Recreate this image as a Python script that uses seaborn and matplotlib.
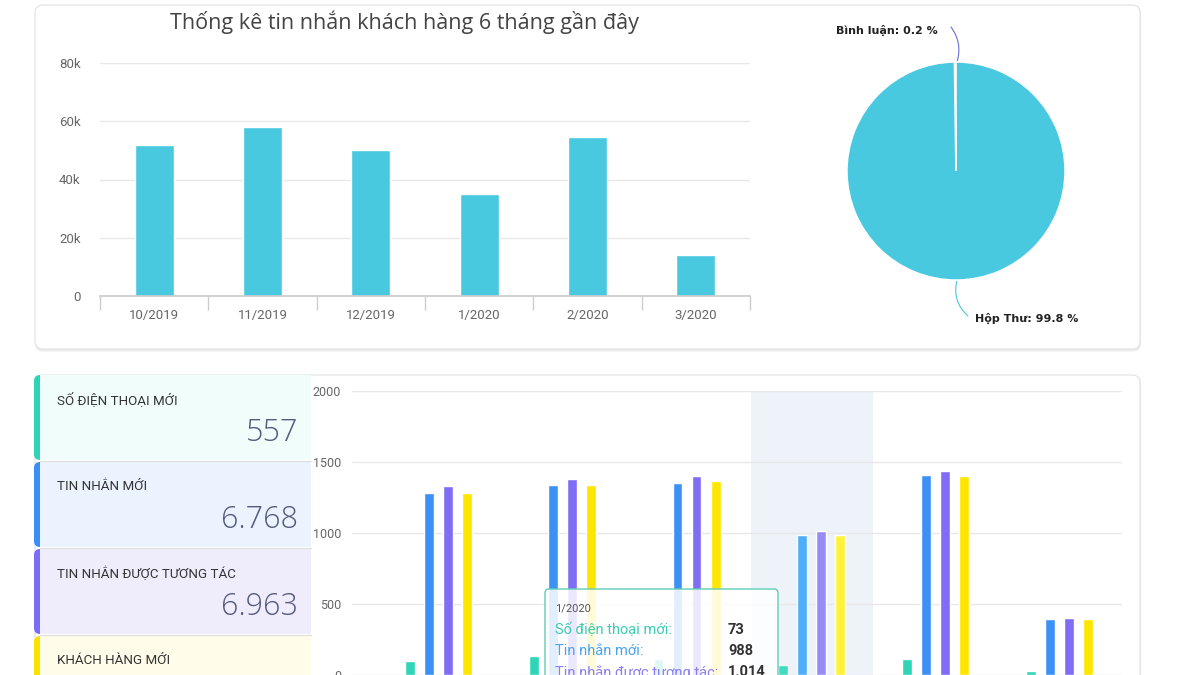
import matplotlib
matplotlib.use('Agg')
import matplotlib.pyplot as plt
from matplotlib.patches import FancyBboxPatch
import seaborn as sns
import pandas as pd
import numpy as np

# ---------------- data ----------------
months = ['10/2019', '11/2019', '12/2019', '1/2020', '2/2020', '3/2020']
hop_thu = [51700, 58000, 50200, 35000, 54600, 14100]
binh_luan = [600, 0, 0, 0, 0, 0]
top_title = 'Thống kê tin nhắn khách hàng 6 tháng gần đây'
top_yticks = [0, 20000, 40000, 60000, 80000]
top_ytick_labels = ['0', '20k', '40k', '60k', '80k']
pie_names = ['Bình luận', 'Hộp Thư']

series_names = ['Số điện thoại mới', 'Tin nhắn mới', 'Tin nhắn được tương tác', 'Khách hàng mới']
panel_titles = ['SỐ ĐIỆN THOẠI MỚI', 'TIN NHẮN MỚI', 'TIN NHẮN ĐƯỢC TƯƠNG TÁC', 'KHÁCH HÀNG MỚI']
so_dien_thoai_moi = [99, 134, 110, 73, 116, 25]
tin_nhan_moi = [1285, 1340, 1355, 988, 1405, 395]
tin_nhan_tuong_tac = [1333, 1380, 1398, 1014, 1438, 400]
khach_hang_moi = [1283, 1338, 1368, 985, 1404, 393]
bottom_yticks = [0, 500, 1000, 1500, 2000]
tooltip_month = '1/2020'

# ---------------- style ----------------
sns.set_theme(style='white')
plt.rcParams['font.family'] = ['Roboto', 'DejaVu Sans']

W, H = 1200, 675
fig = plt.figure(figsize=(12, 6.75), dpi=100)
fig.patch.set_facecolor('white')


def fx(px):
    return px / W


def fy(py):
    return 1 - py / H


def rbox(ax, x0, y0, x1, y1, r, fc, ec='none', lw=0.0, z=1):
    p = FancyBboxPatch((x0, y0), x1 - x0, y1 - y0,
                       boxstyle=f'round,pad=0,rounding_size={r}',
                       fc=fc, ec=ec, lw=lw, zorder=z)
    ax.add_patch(p)
    return p


def fmt_vn(v):
    return f'{int(v):,}'.replace(',', '.')


bg = fig.add_axes([0, 0, 1, 1], zorder=-10)
bg.set_xlim(0, W)
bg.set_ylim(H, 0)
bg.axis('off')

# cards
rbox(bg, 35, 5, 1141, 351.5, 8, '#ececec', z=0)
rbox(bg, 35, 5, 1140, 349, 8, 'white', ec='#e2e2e2', lw=0.8, z=1)
rbox(bg, 35, 375, 1141, 702, 8, '#ececec', z=0)
rbox(bg, 35, 375, 1140, 700, 8, 'white', ec='#e2e2e2', lw=0.8, z=1)

# ---------------- top bar chart ----------------
cyan = '#48c9df'
violet = '#6a6fd3'
ax1 = fig.add_axes([fx(100), fy(296), fx(750) - fx(100), (296 - 63) / H])
df_top = pd.DataFrame({'month': months, 'hop_thu': hop_thu,
                       'total': np.array(hop_thu) + np.array(binh_luan)})
sns.barplot(data=df_top, x='month', y='total', color=violet, width=0.36,
            saturation=1, ax=ax1)
sns.barplot(data=df_top, x='month', y='hop_thu', color=cyan, width=0.36,
            saturation=1, ax=ax1)
ax1.set_xlim(-0.5, 5.5)
ax1.set_ylim(0, 80000)
ax1.set_yticks(top_yticks)
ax1.set_yticklabels(top_ytick_labels)
ax1.set_xlabel('')
ax1.set_ylabel('')
ax1.set_facecolor('none')
ax1.grid(axis='y', color='#e8e8e8', lw=1)
ax1.set_axisbelow(True)
for s in ['top', 'right', 'left']:
    ax1.spines[s].set_visible(False)
ax1.spines['bottom'].set_color('#cccccc')
ax1.set_xticks(np.arange(-0.5, 6, 1), minor=True)
ax1.tick_params(axis='x', which='major', length=0, pad=9, labelsize=9.5, labelcolor='#666666')
ax1.tick_params(axis='x', which='minor', length=10, width=1, color='#cccccc', direction='out', bottom=True)
ax1.tick_params(axis='y', length=0, pad=14, labelsize=9.5, labelcolor='#666666')

fig.text(fx(404), fy(22), top_title, ha='center', va='center', fontsize=15.5,
         color='#444444', family=['Open Sans', 'DejaVu Sans'])

# ---------------- pie ----------------
pie_vals = [sum(binh_luan), sum(hop_thu)]
axp = fig.add_axes([fx(956 - 120), fy(171 + 120), 240 / W, 240 / H])
axp.pie(pie_vals, colors=[violet, cyan], startangle=90, counterclock=True,
        wedgeprops=dict(edgecolor='white', linewidth=1.2))
axp.set_xlim(-1.1, 1.1)
axp.set_ylim(-1.1, 1.1)
tot = sum(pie_vals)
pie_labels = [f'{n}: {v / tot * 100:.1f} %' for n, v in zip(pie_names, pie_vals)]
bg.text(938, 30, pie_labels[0], ha='right', va='center', fontsize=8, fontweight='bold',
        color='#222222', family='DejaVu Sans')
bg.text(975, 318, pie_labels[1], ha='left', va='center', fontsize=8, fontweight='bold',
        color='#222222', family='DejaVu Sans')
bg.annotate('', xy=(957, 62), xytext=(951, 27),
            arrowprops=dict(arrowstyle='-', color='#6a6fd3', lw=0.8, shrinkA=0, shrinkB=0,
                            connectionstyle='arc3,rad=-0.25'), zorder=3)
bg.annotate('', xy=(968, 316), xytext=(957, 280),
            arrowprops=dict(arrowstyle='-', color=cyan, lw=0.8, shrinkA=0, shrinkB=0,
                            connectionstyle='arc3,rad=0.3'), zorder=3)

# ---------------- left panels ----------------
strip_colors = ['#2fd3b6', '#3a8ef6', '#7b6cf5', '#ffe100']
panel_bgs = ['#f0fdfb', '#eaf3fe', '#efedfc', '#fffde9']
tops = [375, 462, 549, 636]
bottoms = [460, 547, 634, 700]
panel_values = [sum(so_dien_thoai_moi), sum(tin_nhan_moi), sum(tin_nhan_tuong_tac)]
for i in range(4):
    rbox(bg, 34, tops[i], 311, bottoms[i], 6, strip_colors[i], z=2)
    bg.add_patch(plt.Rectangle((40, tops[i]), 271, bottoms[i] - tops[i], fc=panel_bgs[i], ec='none', zorder=3))
    bg.plot([40, 311], [bottoms[i] + 0.5, bottoms[i] + 0.5], color='#dddddd', lw=0.8, zorder=4)
    bg.text(57, tops[i] + 25, panel_titles[i], fontsize=9.6, color='#333333', va='center', zorder=5)
    if i < 3:
        bg.text(298, tops[i] + 58, fmt_vn(panel_values[i]), ha='right', va='center',
                fontsize=22, color='#555b7e', family=['Open Sans', 'DejaVu Sans'],
                fontweight='light', zorder=5)

# ---------------- bottom grouped bars ----------------
ser_colors = ['#2fd5b6', '#3d90f6', '#7f6ef5', '#ffe600']
hover_colors = ['#3edcc0', '#4eaefa', '#9a8cf8', '#fff23a']
df_b = pd.DataFrame({
    'month': months * 4,
    'series': sum([[s] * 6 for s in series_names], []),
    'value': so_dien_thoai_moi + tin_nhan_moi + tin_nhan_tuong_tac + khach_hang_moi,
})
ax2 = fig.add_axes([fx(352), fy(675), (1122 - 352) / W, (675 - 391) / H])
ax2.set_facecolor('none')
ax2.axvspan(2.514, 3.496, color='#eef3fa', zorder=0.5, lw=0)
sns.barplot(data=df_b, x='month', y='value', hue='series', hue_order=series_names,
            palette=ser_colors, width=0.612, gap=0.48, saturation=1, legend=False, ax=ax2)
hi = months.index(tooltip_month)
for k, cont in enumerate(ax2.containers):
    for p in cont:
        p.set_zorder(2)
    cont[hi].set_facecolor(hover_colors[k])
ax2.set_xlim(-0.696, 5.5)
ax2.set_ylim(0, 2000)
ax2.set_yticks(bottom_yticks)
ax2.set_xticks([])
ax2.set_xlabel('')
ax2.set_ylabel('')
ax2.grid(axis='y', color='#e8e8e8', lw=1, zorder=0)
ax2.set_axisbelow(True)
for s in ['top', 'right', 'left', 'bottom']:
    ax2.spines[s].set_visible(False)
ax2.tick_params(axis='y', length=0, pad=8, labelsize=9, labelcolor='#666666')

# ---------------- tooltip ----------------
ov = fig.add_axes([0, 0, 1, 1], zorder=10)
ov.set_xlim(0, W)
ov.set_ylim(H, 0)
ov.axis('off')
rbox(ov, 545, 589, 778, 705, 4, (1, 1, 1, 0.85), ec='#5fcdb5', lw=1, z=1)
ov.text(555, 608, tooltip_month, fontsize=8, color='#555555', va='center', zorder=2)
tip_colors = ['#3ccbb4', '#4aa3f0', '#8b7ef2']
tip_series = [so_dien_thoai_moi, tin_nhan_moi, tin_nhan_tuong_tac]
for j, yy in enumerate([630, 651, 672]):
    ov.text(555, yy, series_names[j] + ':', fontsize=10.5, color=tip_colors[j], va='center', zorder=2)
    ov.text(728, yy, fmt_vn(tip_series[j][hi]), fontsize=10.5, color='#333333',
            fontweight='bold', va='center', zorder=2)

fig.savefig('out.png', dpi=100)
